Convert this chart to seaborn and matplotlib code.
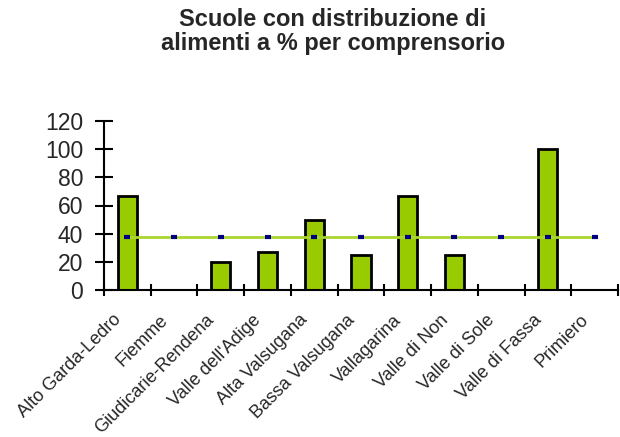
import numpy as np
import pandas as pd
import matplotlib
matplotlib.use("Agg")
import matplotlib.pyplot as plt
import matplotlib.transforms as mtransforms
import seaborn as sns

# Data
comprensori = ["Alto Garda-Ledro", "Fiemme", "Giudicarie-Rendena", "Valle dell'Adige",
               "Alta Valsugana", "Bassa Valsugana", "Vallagarina", "Valle di Non",
               "Valle di Sole", "Valle di Fassa", "Primiero"]
percentuali = [66.7, 0, 20, 26.7, 50, 25, 66.7, 25, 0, 100, 0]
media = [37.5] * len(comprensori)
yticks = [0, 20, 40, 60, 80, 100, 120]
titolo = "Scuole con distribuzione di\nalimenti a % per comprensorio"

sns.set_theme(style="white")
plt.rcParams["font.family"] = ["Liberation Sans", "DejaVu Sans"]

df = pd.DataFrame({"comprensorio": comprensori, "perc": percentuali, "media": media})
df["pos"] = np.arange(len(df))

fig = plt.figure(figsize=(6.2, 4.37), dpi=100)
ax = fig.add_axes([104 / 620, 1 - 290 / 437, (618 - 104) / 620, (290 - 121) / 437])

green = "#99CC00"
sns.barplot(data=df, x="comprensorio", y="perc", color=green, width=0.41,
            edgecolor="black", linewidth=2, saturation=1, ax=ax, zorder=2)
sns.lineplot(data=df, x="pos", y="media", color="#A8D62E", linewidth=2, ax=ax,
             marker="_", markersize=5, markeredgewidth=3,
             markeredgecolor="#000080", markerfacecolor="#000080", zorder=3)

n = len(comprensori)
ax.set_xlim(-0.5, n - 0.5)
ax.set_ylim(0, 120)
ax.set_yticks(yticks)
ax.set_yticklabels([str(v) for v in yticks], fontsize=16.5)
ax.set_xlabel("")
ax.set_ylabel("")

# Tick marks at category boundaries, labels at category centres
ax.set_xticks(np.arange(-0.5, n, 1.0))
ax.set_xticklabels([])
ax.set_xticks(np.arange(n), minor=True)
ax.set_xticklabels(comprensori, minor=True, rotation=45, ha="right",
                   va="top", rotation_mode="anchor", fontsize=13)
ax.tick_params(axis="x", which="minor", bottom=True, length=0, pad=15.5)
ax.tick_params(axis="x", which="major", bottom=True, direction="inout",
               length=12 * 0.72, width=1.5, color="black")
ax.tick_params(axis="y", left=True, direction="inout", length=18 * 0.72,
               width=1.5, color="black", pad=8.6)
offset = mtransforms.ScaledTranslation(-15 / 100, 0, fig.dpi_scale_trans)
for lab in ax.get_xticklabels(minor=True):
    lab.set_transform(lab.get_transform() + offset)

for side in ["top", "right"]:
    ax.spines[side].set_visible(False)
for side in ["left", "bottom"]:
    ax.spines[side].set_color("black")
    ax.spines[side].set_linewidth(1.5)
ax.grid(False)

fig.text(333 / 620, 1 - 31.5 / 437, titolo, ha="center", va="center",
         fontsize=17, fontweight="bold", linespacing=1.1)

fig.savefig("out.png", dpi=100)
